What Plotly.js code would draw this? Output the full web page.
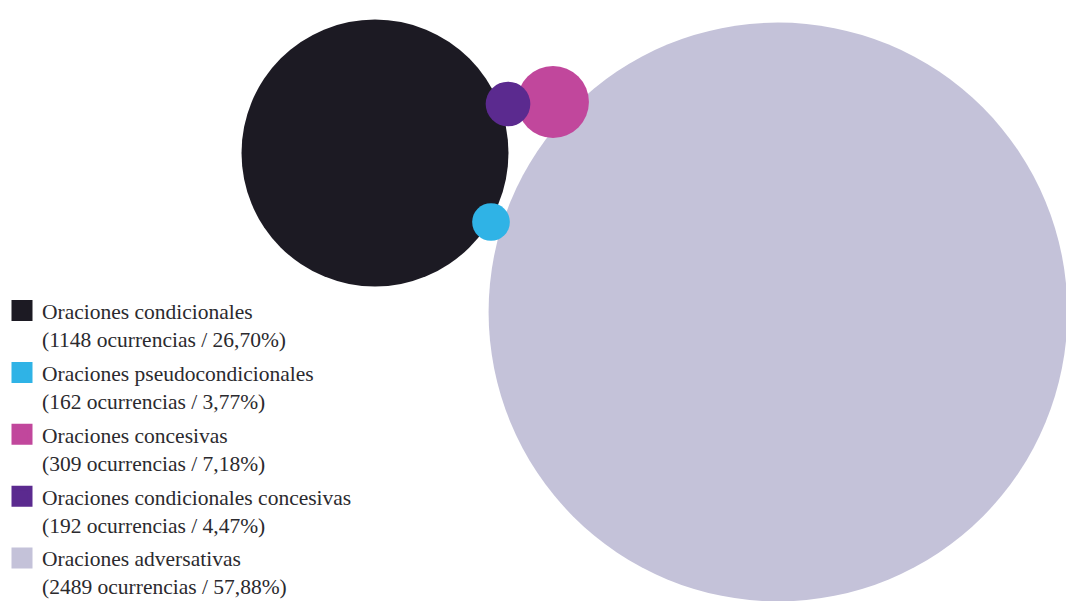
<!DOCTYPE html>
<html>
<head>
<meta charset="utf-8">
<script src="https://cdn.plot.ly/plotly-3.0.1.min.js"></script>
<style>html,body{margin:0;padding:0;background:#fff;}#chart{width:1066px;height:601px;}</style>
</head>
<body>
<div id="chart"></div>
<script>
// Data
const categories = [
  "Oraciones condicionales",
  "Oraciones pseudocondicionales",
  "Oraciones concesivas",
  "Oraciones condicionales concesivas",
  "Oraciones adversativas"
];
const occurrences = [1148, 162, 309, 192, 2489];
const percentLabels = ["26,70%", "3,77%", "7,18%", "4,47%", "57,88%"];
const colors = ["#1c1a23", "#2fb3e6", "#c1479c", "#5b2a8f", "#c4c2d9"];
// bubble placement (chart units)
const posX = [375, 491, 553, 508, 778];
const posY = [153, 222, 102, 104, 312];
// drawing order (back to front)
const drawOrder = [0, 4, 2, 3, 1];

const sizeRef = 4.3;
const traces = [];
drawOrder.forEach(i => {
  traces.push({
    type: "scatter", mode: "markers",
    x: [posX[i]], y: [posY[i]],
    cliponaxis: false,
    marker: {size: [occurrences[i]], sizemode: "diameter", sizeref: sizeRef, color: colors[i], line: {width: 0}, opacity: 1},
    showlegend: false, hoverinfo: "skip"
  });
});
categories.forEach((c, i) => {
  traces.push({
    type: "scatter", mode: "markers",
    x: [null], y: [null],
    name: c + "<br>(" + occurrences[i] + " ocurrencias / " + percentLabels[i] + ")",
    legendgroup: "g" + i,
    marker: {symbol: "square", size: 16, color: colors[i], line: {color: colors[i], width: 6}},
    showlegend: true
  });
});

const layout = {
  width: 1066, height: 601,
  margin: {l: 0, r: 0, t: 0, b: 0, autoexpand: false},
  paper_bgcolor: "#ffffff", plot_bgcolor: "#ffffff",
  xaxis: {range: [0, 1066], visible: false, fixedrange: true},
  yaxis: {range: [601, 0], visible: false, fixedrange: true},
  showlegend: true,
  legend: {
    x: 2/1066, xanchor: "left", y: 1 - 290/601, yanchor: "top",
    bgcolor: "rgba(0,0,0,0)",
    font: {family: "Liberation Serif", size: 21.5, color: "#2b2a2e"},
    valign: "top", traceorder: "grouped", tracegroupgap: 3,
    itemwidth: 30
  }
};
Plotly.newPlot("chart", traces, layout, {staticPlot: true, displayModeBar: false});
</script>
</body>
</html>
